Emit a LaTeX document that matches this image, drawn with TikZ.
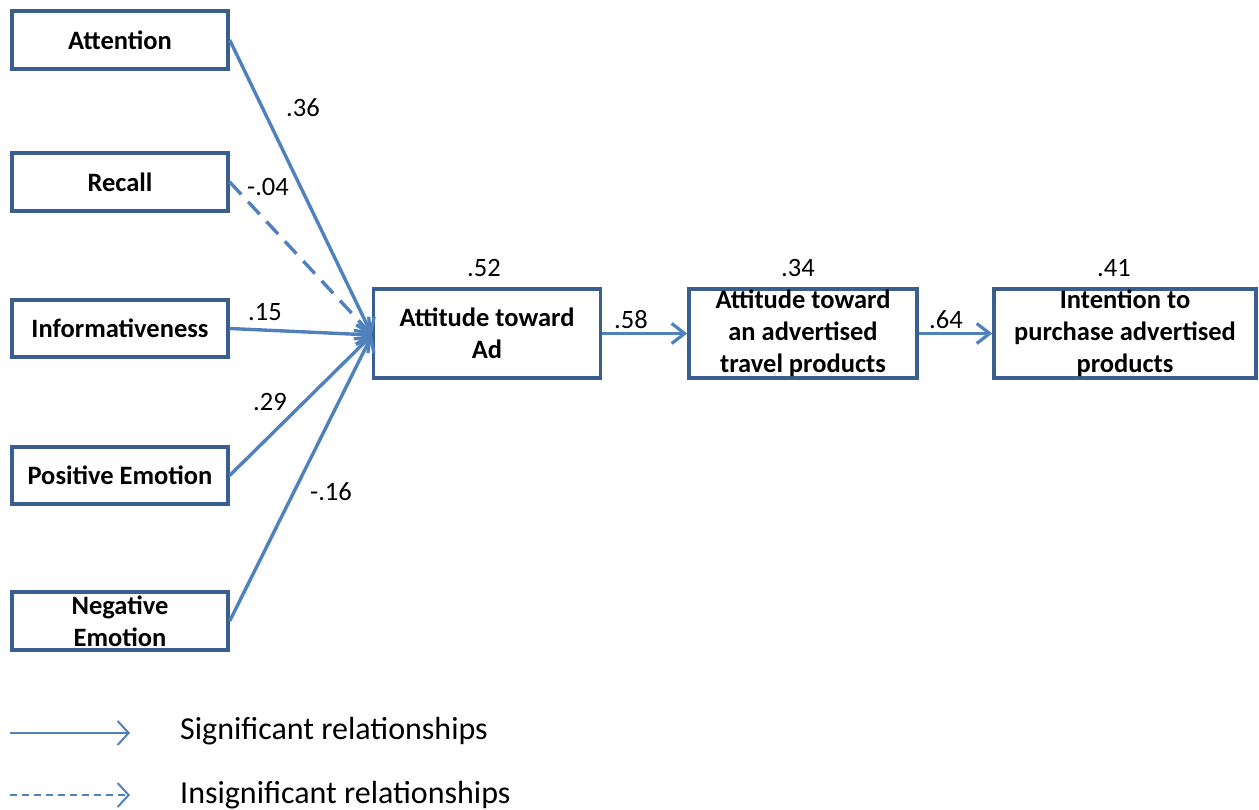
\documentclass[tikz,border=0pt]{standalone}
\usepackage{fontspec}
\setmainfont{Carlito}
\usetikzlibrary{arrows.meta}
\definecolor{lineblue}{HTML}{4F81BD}
\definecolor{boxblue}{HTML}{3A5F8F}
\tikzset{
  box/.style={draw=boxblue, line width=3.4pt, fill=white, rectangle, inner sep=1pt,
    align=center, font=\fontsize{26.5}{32}\selectfont\bfseries, text=black},
  smallbox/.style={box, minimum width=216pt, minimum height=58pt},
  bigbox/.style={box, minimum height=89pt},
  path/.style={draw=lineblue, line width=3.4pt, -{Straight Barb[length=13pt,width=20pt,line width=3.2pt]}},
  coef/.style={font=\fontsize{26.5}{30}\selectfont, text=black, inner sep=0pt},
  legline/.style={draw=lineblue, line width=2pt, -{Straight Barb[length=11pt,width=24pt,line width=2pt]}},
  legtext/.style={font=\fontsize{32}{36}\selectfont, text=black, anchor=west, inner sep=0pt}
}
\begin{document}
\begin{tikzpicture}[x=1pt,y=-1pt]
\useasboundingbox (0,0) rectangle (1259,810);
\node[smallbox] (att) at (120,40) {Attention};
\node[smallbox] (rec) at (120,182) {Recall};
\node[smallbox, minimum height=57pt] (inf) at (120,328.5) {Informativeness};
\node[smallbox, minimum height=57pt] (pos) at (120,475.5) {Positive Emotion};
\node[smallbox] (neg) at (120,621) {Negative\\Emotion};
\node[bigbox, minimum width=227pt] (ad) at (487,333.5) {Attitude toward\\Ad};
\node[bigbox, minimum width=228pt, text depth=4pt] (trav) at (803,333.5) {Attitude toward\\an advertised\\travel products};
\node[bigbox, minimum width=262pt, text depth=4pt] (int) at (1125,333.5) {Intention to\\purchase advertised\\products};
\coordinate (adin) at (372,335);
\draw[path] (att.east) -- (adin);
\draw[path, dash pattern=on 17pt off 10pt] (rec.east) -- (adin);
\draw[path] (inf.east) -- (adin);
\draw[path] (pos.east) -- (adin);
\draw[path] (neg.east) -- (adin);
\draw[path] (ad.east) -- (trav.west);
\draw[path] (trav.east) -- (int.west);
\node[coef] (c1) at (303,108) {.36};
\node[coef] (c2) at (268,187) {-.04};
\node[coef] (c3) at (265,312) {.15};
\node[coef] (c4) at (270,402) {.29};
\node[coef] (c5) at (331,492) {-.16};
\node[coef] (c6) at (484,268) {.52};
\node[coef] (c7) at (631,320) {.58};
\node[coef] (c8) at (798,268) {.34};
\node[coef] (c9) at (946,320) {.64};
\node[coef] (c10) at (1114,268) {.41};
\coordinate (l1a) at (10,733);
\coordinate (l1b) at (130,733);
\coordinate (l2a) at (10,795);
\coordinate (l2b) at (130,795);
\draw[legline] (l1a) -- (l1b);
\draw[legline, dash pattern=on 7pt off 5pt] (l2a) -- (l2b);
\node[legtext] (t1) at (180,731) {Significant relationships};
\node[legtext] (t2) at (180,795) {Insignificant relationships};
\end{tikzpicture}
\end{document}
